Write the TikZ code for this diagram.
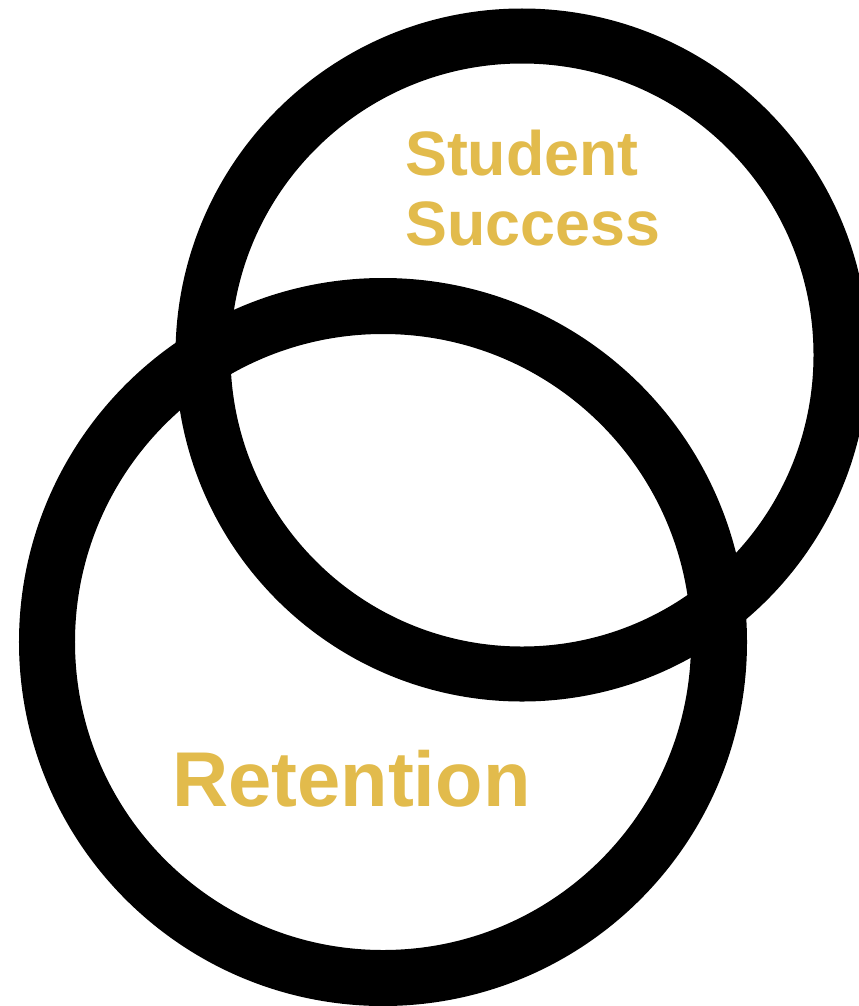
\documentclass[tikz,border=0pt]{standalone}
\usepackage{fontspec}
\setmainfont{Liberation Sans}
\definecolor{gold}{RGB}{226,187,76}
\begin{document}
\begin{tikzpicture}[x=1bp,y=-1bp]
\tikzset{ring/.style={draw=black,line width=56bp},
  label/.style={text=gold,font=\bfseries,inner sep=0pt,anchor=base west}}
\clip (0,0) rectangle (859,1006);
\fill[white] (0,0) rectangle (859,1006);

% retention ring
\draw[ring] (383,642) circle [radius=336bp];
% student success ring
\draw[ring,line width=55bp] (522,355) circle [radius=319bp];

\node[label,font=\bfseries\fontsize{63}{70}\selectfont] (student) at (405,175) {Student};
\node[label,font=\bfseries\fontsize{63}{70}\selectfont] (success) at (405,245) {Success};
\node[label,font=\bfseries\fontsize{78}{86}\selectfont] (retention) at (172,806) {Retention};
%\draw[style=help lines] (0,0) grid[step=100] (859,1006);
\end{tikzpicture}
\end{document}
